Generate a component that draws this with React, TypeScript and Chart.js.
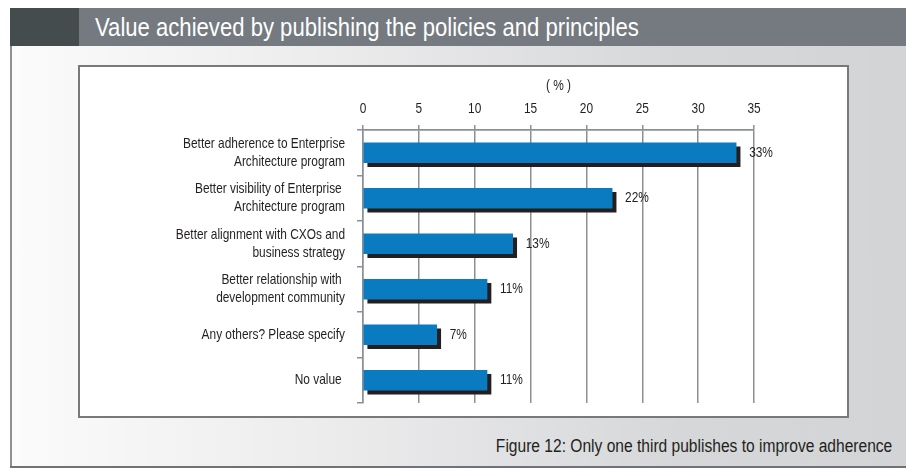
import React, { useEffect, useRef } from 'react';
import { Chart, registerables } from 'chart.js';
Chart.register(...registerables);

const chartTitle = 'Value achieved by publishing the policies and principles';
const caption = 'Figure 12: Only one third publishes to improve adherence';
const axisTitle = '( % )';
const categories: string[][] = [
  ['Better adherence to Enterprise', 'Architecture program'],
  ['Better visibility of Enterprise ', 'Architecture program'],
  ['Better alignment with CXOs and', 'business strategy'],
  ['Better relationship with ', 'development community'],
  ['Any others? Please specify'],
  ['No value '],
];
const values: number[] = [33.4, 22.3, 13.4, 11.1, 6.6, 11.1];
const xMin = 0;
const xMax = 35;
const xStep = 5;

const FONT = '"Liberation Sans", Arial, Helvetica, sans-serif';
const NARROW = 0.82;
const TEXT = '#231f20';
const GRID = '#8a9096';
const BLUE = '#0b7bc1';
const SHADOW = '#231f20';

const shadowPlugin = {
  id: 'barShadow',
  beforeDatasetDraw(chart: any) {
    const ctx = chart.ctx;
    ctx.save();
    ctx.shadowColor = SHADOW;
    ctx.shadowBlur = 0;
    ctx.shadowOffsetX = 4;
    ctx.shadowOffsetY = 4;
  },
  afterDatasetDraw(chart: any) {
    chart.ctx.restore();
  },
};

const labelPlugin = {
  id: 'valueLabels',
  afterDatasetsDraw(chart: any) {
    const ctx = chart.ctx;
    const meta = chart.getDatasetMeta(0);
    const data = chart.data.datasets[0].data as number[];
    ctx.save();
    ctx.font = `14.5px ${FONT}`;
    ctx.fillStyle = TEXT;
    ctx.textAlign = 'left';
    ctx.textBaseline = 'middle';
    meta.data.forEach((el: any, i: number) => {
      ctx.fillText(`${Math.round(data[i])}%`, el.x + 13, el.y);
    });
    ctx.restore();
  },
};

function ChartCanvas() {
  const ref = useRef<HTMLCanvasElement | null>(null);
  useEffect(() => {
    if (!ref.current) return;
    const c2d = ref.current.getContext('2d') as any;
    // narrow (condensed) text rendering, like the original's narrow sans face
    const origFill = c2d.fillText.bind(c2d);
    c2d.fillText = (t: string, x: number, y: number, mw?: number) => {
      const w = c2d.measureText(t).width * NARROW;
      origFill(t, x, y, mw !== undefined ? Math.min(mw, w) : w);
    };
    const lastIndex = categories.length;
    const chart = new Chart(ref.current, {
      type: 'bar',
      data: {
        labels: categories,
        datasets: [
          {
            data: values,
            backgroundColor: BLUE,
            barThickness: 20,
            borderWidth: 0,
          },
        ],
      },
      options: {
        indexAxis: 'y',
        animation: false,
        responsive: false,
        maintainAspectRatio: false,
        layout: { padding: { left: 0, top: 70, right: 152, bottom: 65 } },
        plugins: {
          legend: { display: false },
          tooltip: { enabled: false },
          title: { display: false },
        },
        scales: {
          x: {
            position: 'top',
            min: xMin,
            max: xMax,
            afterFit(scale: any) {
              scale.height = 60;
            },
            ticks: {
              stepSize: xStep,
              color: TEXT,
              font: { family: FONT, size: 14.5 },
              padding: 7,
            },
            grid: {
              color: GRID,
              lineWidth: 1.5,
              tickLength: 5,
              drawTicks: true,
            },
            border: { display: true, color: GRID, width: 1.5 },
            title: {
              display: true,
              text: axisTitle,
              color: TEXT,
              font: { family: FONT, size: 14.5 },
              padding: { top: 7, bottom: 0 },
            },
          },
          y: {
            afterFit(scale: any) {
              scale.width = 363;
            },
            ticks: {
              color: TEXT,
              font: { family: FONT, size: 14.5, lineHeight: 1.22 },
              padding: 12,
            },
            grid: {
              offset: true,
              color: (c: any) => (c.index === 0 || c.index === lastIndex ? GRID : 'rgba(0,0,0,0)'),
              tickColor: GRID,
              lineWidth: 1.5,
              tickLength: 6,
              drawTicks: true,
            },
            border: { display: true, color: GRID, width: 1.5 },
          },
        },
      },
      plugins: [shadowPlugin, labelPlugin],
    } as any);
    return () => chart.destroy();
  }, []);
  return (
    <canvas
      ref={ref}
      width={906}
      height={468}
      style={{ position: 'absolute', left: 0, top: 0, width: 906, height: 468 }}
    />
  );
}

export default function App() {
  return (
    <div
      style={{
        position: 'fixed',
        left: 0,
        top: 0,
        width: 906,
        height: 468,
        background: '#ffffff',
        overflow: 'hidden',
        fontFamily: FONT,
      }}
    >
      {/* body panel */}
      <div
        style={{
          position: 'absolute',
          left: 10,
          top: 46,
          width: 896,
          height: 420,
          background: 'linear-gradient(to right, #fbfbfb 0%, #ececed 35%, #d6d7d9 75%, #d3d4d6 100%)',
          borderLeft: '2px solid #8c9095',
          boxSizing: 'border-box',
        }}
      />
      {/* bottom bar */}
      <div style={{ position: 'absolute', left: 10, top: 466, width: 896, height: 2, background: '#6d7378' }} />
      {/* header */}
      <div style={{ position: 'absolute', left: 10, top: 8, width: 69, height: 38, background: '#454c4e' }} />
      <div
        style={{
          position: 'absolute',
          left: 79,
          top: 8,
          width: 827,
          height: 38,
          background: '#747a80',
        }}
      />
      <div
        style={{
          position: 'absolute',
          left: 95,
          top: 8,
          height: 38,
          lineHeight: '38px',
          color: '#ffffff',
          fontSize: 26,
          whiteSpace: 'nowrap',
          transform: 'scaleX(0.85)',
          transformOrigin: 'left center',
        }}
      >
        {chartTitle}
      </div>
      {/* inner white box */}
      <div
        style={{
          position: 'absolute',
          left: 78,
          top: 65,
          width: 771,
          height: 353,
          background: '#ffffff',
          border: '2px solid #77797b',
          boxSizing: 'border-box',
        }}
      />
      {/* caption */}
      <div
        style={{
          position: 'absolute',
          right: 906 - 892,
          top: 435,
          height: 22,
          lineHeight: '22px',
          color: TEXT,
          fontSize: 18,
          whiteSpace: 'nowrap',
          textAlign: 'right',
          transform: 'scaleX(0.865)',
          transformOrigin: 'right center',
        }}
      >
        {caption}
      </div>
      <ChartCanvas />
    </div>
  );
}
